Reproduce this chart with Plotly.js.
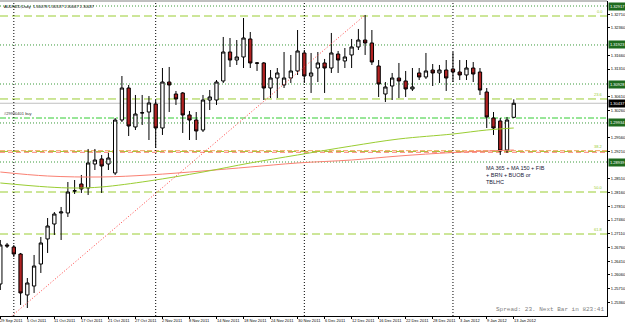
<!DOCTYPE html>
<html><head><meta charset="utf-8">
<script src="https://cdn.plot.ly/plotly-3.0.1.min.js"></script>
<style>html,body{margin:0;padding:0;background:#fff;} #chart{width:625px;height:323px;}</style>
</head><body><div id="chart"></div>
<script>
const symbolTitle = "AUDNZD,Daily  1.30078 1.30537 1.30067 1.30437";
const dates = ["29 Sep 2011","30 Sep 2011","3 Oct 2011","4 Oct 2011","5 Oct 2011","6 Oct 2011","7 Oct 2011","10 Oct 2011","11 Oct 2011","12 Oct 2011","13 Oct 2011","14 Oct 2011","17 Oct 2011","18 Oct 2011","19 Oct 2011","20 Oct 2011","21 Oct 2011","24 Oct 2011","25 Oct 2011","26 Oct 2011","27 Oct 2011","28 Oct 2011","31 Oct 2011","1 Nov 2011","2 Nov 2011","3 Nov 2011","4 Nov 2011","7 Nov 2011","8 Nov 2011","9 Nov 2011","10 Nov 2011","11 Nov 2011","14 Nov 2011","15 Nov 2011","16 Nov 2011","17 Nov 2011","18 Nov 2011","21 Nov 2011","22 Nov 2011","23 Nov 2011","24 Nov 2011","25 Nov 2011","28 Nov 2011","29 Nov 2011","30 Nov 2011","1 Dec 2011","2 Dec 2011","5 Dec 2011","6 Dec 2011","7 Dec 2011","8 Dec 2011","9 Dec 2011","12 Dec 2011","13 Dec 2011","14 Dec 2011","15 Dec 2011","16 Dec 2011","19 Dec 2011","20 Dec 2011","21 Dec 2011","22 Dec 2011","23 Dec 2011","26 Dec 2011","27 Dec 2011","28 Dec 2011","29 Dec 2011","30 Dec 2011","2 Jan 2012","3 Jan 2012","4 Jan 2012","5 Jan 2012","6 Jan 2012","9 Jan 2012","10 Jan 2012","11 Jan 2012","12 Jan 2012","13 Jan 2012"];
const open = [1.25828,1.26823,1.26772,1.26593,1.25548,1.25777,1.26338,1.26976,1.27358,1.27639,1.27639,1.28200,1.28378,1.28276,1.28888,1.29016,1.28888,1.28659,1.30010,1.30826,1.29832,1.30189,1.30214,1.30418,1.29806,1.30979,1.30673,1.30699,1.30138,1.30010,1.29755,1.30520,1.30520,1.31005,1.31744,1.31540,1.31617,1.32076,1.31464,1.31464,1.30826,1.31081,1.30903,1.31081,1.31260,1.31719,1.31132,1.31336,1.31464,1.31336,1.31693,1.31515,1.31668,1.31872,1.32050,1.31974,1.31387,1.30673,1.30877,1.31081,1.31005,1.30801,1.31209,1.31107,1.31285,1.31209,1.31285,1.31311,1.31234,1.31158,1.31336,1.31234,1.30724,1.30061,1.29985,1.29245,1.30078];
const high = [1.26950,1.26874,1.26823,1.26619,1.25981,1.26568,1.27027,1.27511,1.27664,1.27792,1.28429,1.28480,1.28608,1.29271,1.29271,1.29118,1.29169,1.30061,1.31132,1.30903,1.30648,1.30648,1.30622,1.30520,1.31336,1.31362,1.30750,1.30724,1.30240,1.30214,1.30648,1.30775,1.31030,1.32127,1.32101,1.32050,1.32611,1.32254,1.31489,1.31489,1.31285,1.31336,1.31744,1.31668,1.32305,1.31795,1.31719,1.31744,1.31566,1.32229,1.31770,1.31846,1.32076,1.32331,1.32688,1.32305,1.31540,1.30979,1.31209,1.31464,1.31260,1.31336,1.31336,1.31719,1.31438,1.31413,1.31540,1.31744,1.31540,1.31540,1.31489,1.31336,1.30826,1.30214,1.30061,1.30087,1.30537];
const low = [1.25675,1.26746,1.26517,1.25293,1.25216,1.25599,1.26109,1.26619,1.27078,1.26950,1.27537,1.28123,1.28149,1.28098,1.28735,1.28149,1.28735,1.28608,1.29959,1.29602,1.29755,1.29883,1.29500,1.29296,1.29628,1.30214,1.30393,1.29679,1.29500,1.29500,1.29704,1.30265,1.30393,1.30954,1.31362,1.31413,1.31336,1.31336,1.31260,1.30520,1.30571,1.30571,1.30826,1.30954,1.31158,1.30954,1.30699,1.30979,1.30699,1.31209,1.31209,1.31336,1.31336,1.31795,1.31668,1.31413,1.30597,1.30469,1.30520,1.30571,1.30597,1.30750,1.31030,1.31056,1.30877,1.30954,1.30750,1.30979,1.31030,1.31030,1.30979,1.30648,1.29806,1.29628,1.29118,1.29169,1.30067];
const close = [1.26823,1.26797,1.26593,1.25599,1.25854,1.26287,1.26874,1.27307,1.27613,1.27664,1.28174,1.28205,1.28251,1.28914,1.28990,1.28837,1.29041,1.30010,1.30826,1.29857,1.30163,1.30195,1.30444,1.29806,1.30979,1.30903,1.30546,1.30138,1.30010,1.29730,1.30520,1.30597,1.30979,1.31744,1.31540,1.31617,1.32101,1.31464,1.31460,1.30826,1.31081,1.31209,1.31081,1.31260,1.31770,1.31132,1.31209,1.31464,1.31336,1.31719,1.31540,1.31617,1.31872,1.32050,1.31974,1.31489,1.30928,1.30852,1.31081,1.31005,1.30801,1.30852,1.31107,1.31260,1.31209,1.31285,1.31081,1.31234,1.31158,1.31336,1.31183,1.30775,1.30087,1.29806,1.29220,1.30010,1.30437];

const ma365Dates = ["29 Sep 2011","10 Oct 2011","20 Oct 2011","31 Oct 2011","10 Nov 2011","21 Nov 2011","30 Nov 2011","12 Dec 2011","21 Dec 2011","2 Jan 2012","13 Jan 2012"];
const ma365 = [1.28684,1.28582,1.28557,1.28608,1.28710,1.28812,1.28914,1.28990,1.29092,1.29181,1.29245];
const ma150Dates = ["29 Sep 2011","10 Oct 2011","14 Oct 2011","20 Oct 2011","31 Oct 2011","10 Nov 2011","21 Nov 2011","30 Nov 2011","12 Dec 2011","21 Dec 2011","2 Jan 2012","9 Jan 2012","13 Jan 2012"];
const ma150 = [1.28404,1.28302,1.28276,1.28302,1.28455,1.28684,1.28914,1.29118,1.29347,1.29526,1.29653,1.29755,1.29806];

const srLevels = [1.32917,1.31923,1.30928,1.29934,1.28939];
const fibLevels = [1.32662,1.30546,1.29207,1.28174,1.27103];
const fibLabels = ["0.0","23.6","38.2","50.0","61.8"];
const orderLevel = 1.30061;
const orderLabel = "#29990401 buy";
const orangeLevel = 1.29228;
const redLevel = 1.29186;
const trendDates = ["30 Sep 2011","14 Dec 2011"];
const trendPrices = [1.2491,1.32688];
const priceTicks = [1.25010,1.25360,1.25710,1.26060,1.26410,1.26760,1.27110,1.27460,1.27810,1.28160,1.28510,1.28860,1.29210,1.29560,1.29910,1.30260,1.30610,1.30960,1.31310,1.31660,1.32010,1.32360,1.32710];
const noteText = "MA 365 + MA 150 + FIB<br>+ BRN + BUOB or<br>TBLHC";
const statusText = "Spread: 23. Next Bar in 823:41";

const idx = d => dates.indexOf(d);
const xs = dates.map((d,i)=>i);
const tickIdx = xs.filter(i=>i%4===0);
const lastClose = close[close.length-1];
const boxed = srLevels.concat([lastClose]);
const shownTicks = priceTicks.filter(v=>boxed.every(b=>Math.abs(b-v)>0.0013));

const traces = [
  {type:'scatter',mode:'lines',x:ma365Dates.map(idx),y:ma365,line:{color:'#fa8072',width:1,shape:'spline'},hoverinfo:'skip'},
  {type:'scatter',mode:'lines',x:ma150Dates.map(idx),y:ma150,line:{color:'#9acd32',width:1,shape:'spline'},hoverinfo:'skip'},
  {type:'scatter',mode:'lines',x:trendDates.map(idx),y:trendPrices,line:{color:'#ff4040',width:1,dash:'1px,2px'},hoverinfo:'skip'},
  {type:'candlestick',x:xs,open:open,high:high,low:low,close:close,whiskerwidth:0,
   increasing:{line:{color:'#000',width:1},fillcolor:'#ffffff'},
   decreasing:{line:{color:'#000',width:1},fillcolor:'#b22222'}}
];

const shapes = [];
const annotations = [];
const hline = (y,color,dash,w)=>shapes.push({type:'line',xref:'paper',x0:0,x1:1,yref:'y',y0:y,y1:y,line:{color:color,width:w||1,dash:dash},layer:'below'});
srLevels.forEach(v=>hline(v,'#3a9a3a','1px,2px'));
fibLevels.forEach(v=>hline(v,'#9acd32','8px,4px'));
hline(orangeLevel,'#f4a460','5px,2px');
hline(redLevel,'#fa8072','5px,3px');
hline(lastClose,'#c0c0c0','solid');
hline(orderLevel,'#32cd32','6px,2px,2px,2px');
for(let i=1;i<dates.length;i++){
  if(dates[i].split(' ')[1]!==dates[i-1].split(' ')[1]){
    shapes.push({type:'line',xref:'x',x0:i,x1:i,yref:'paper',y0:0,y1:1,line:{color:'#000',width:1,dash:'1px,2px'},layer:'below'});
  }
}
shapes.push({type:'line',xref:'paper',x0:0,x1:1,yref:'paper',y0:1,y1:1,line:{color:'#808080',width:1}});

tickIdx.forEach(i=>annotations.push({xref:'x',x:i,xanchor:'left',xshift:-1,yref:'paper',y:0,yanchor:'top',yshift:-1,text:dates[i],showarrow:false,borderpad:0,font:{size:4,color:'#000',family:'Liberation Sans'}}));
fibLevels.forEach((v,k)=>annotations.push({xref:'paper',x:1,xanchor:'right',xshift:-2,yref:'y',y:v,yanchor:'bottom',text:fibLabels[k],showarrow:false,font:{size:4,color:'#9acd32',family:'Liberation Sans'}}));
srLevels.forEach(v=>annotations.push({xref:'paper',x:1,xanchor:'left',xshift:1,yref:'y',y:v,yanchor:'middle',text:v.toFixed(5),showarrow:false,bgcolor:'#1e6b1e',borderpad:1,font:{size:4,color:'#fff',family:'Liberation Sans'}}));
annotations.push({xref:'paper',x:1,xanchor:'left',xshift:1,yref:'y',y:lastClose,yanchor:'middle',text:lastClose.toFixed(5),showarrow:false,bgcolor:'#000',borderpad:1,font:{size:4,color:'#fff',family:'Liberation Sans'}});
annotations.push({xref:'paper',x:0,xanchor:'left',xshift:2,yref:'y',y:orderLevel,yanchor:'bottom',text:orderLabel,showarrow:false,font:{size:4,color:'#333',family:'Liberation Sans'}});
annotations.push({xref:'paper',x:0,xanchor:'left',xshift:2,yref:'paper',y:1,yanchor:'top',yshift:-1,text:symbolTitle,showarrow:false,font:{size:4,color:'#000',family:'Liberation Sans'}});
annotations.push({xref:'x',x:71.6,xanchor:'left',yref:'y',y:1.28925,yanchor:'top',text:noteText,align:'left',showarrow:false,font:{size:5.5,color:'#1a1a3a',family:'Liberation Sans'}});
annotations.push({xref:'paper',x:1,xanchor:'right',xshift:-1,yref:'paper',y:0,yanchor:'bottom',yshift:1,text:statusText,showarrow:false,font:{size:6,color:'#808080',family:'Liberation Mono'}});

const layout = {
  width:625,height:323,margin:{l:0,r:18,t:1,b:7},
  paper_bgcolor:'#fff',plot_bgcolor:'#fff',showlegend:false,hovermode:false,boxgap:0.3,
  xaxis:{range:[-0.045,89.8],showgrid:false,zeroline:false,rangeslider:{visible:false},
    tickmode:'array',tickvals:tickIdx,showticklabels:false,ticks:'outside',ticklen:2,tickcolor:'#000',
    showline:true,linecolor:'#000',linewidth:1},
  yaxis:{side:'right',range:[1.25012,1.330445],tickmode:'array',tickvals:shownTicks,ticktext:shownTicks.map(v=>v.toFixed(5)),
    ticks:'outside',ticklen:2,tickcolor:'#000',tickfont:{size:4,color:'#000',family:'Liberation Sans'},showgrid:false,zeroline:false,showline:true,linecolor:'#000',linewidth:1},
  shapes:shapes,annotations:annotations
};
Plotly.newPlot('chart',traces,layout,{staticPlot:true,displayModeBar:false});
</script></body></html>
